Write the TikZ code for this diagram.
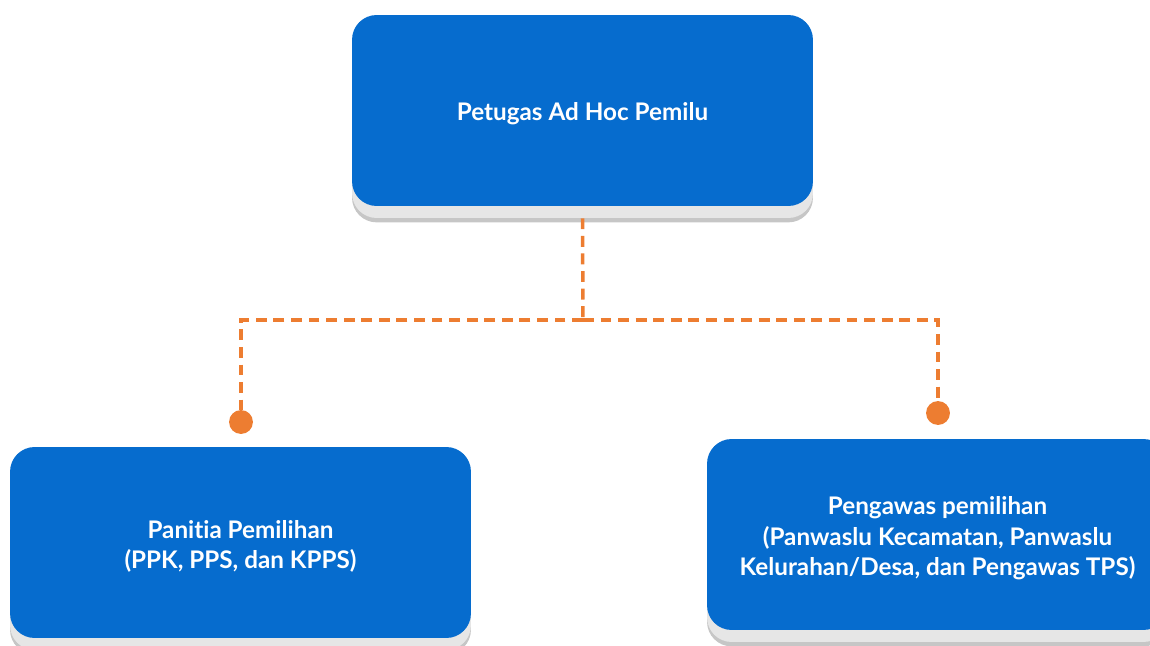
\documentclass[tikz,border=0pt]{standalone}
\usepackage{fontspec}
\setmainfont{Lato}[UprightFont=* Bold, Ligatures={NoCommon}]
\usetikzlibrary{calc,shadows,backgrounds,positioning}

\definecolor{boxblue}{RGB}{6,108,206}
\definecolor{lineorange}{RGB}{237,125,49}
\definecolor{basegray}{RGB}{230,230,230}

\tikzset{
    unitbox/.style={rounded corners=14pt, minimum width=9.22cm, minimum height=3.82cm, inner sep=0pt},
    bluebox/.style={unitbox, fill=boxblue, text=white, align=center, font=\fontsize{13.8}{17.2}\selectfont},
    basebox/.style={unitbox, fill=basegray, drop shadow={opacity=0.45, shadow xshift=0pt, shadow yshift=-2.5pt}},
    link/.style={lineorange, line width=2pt, dash pattern=on 6.2pt off 3.8pt},
    dot/.style={circle, fill=lineorange, minimum size=13.6pt, inner sep=0pt}
}

\begin{document}
\begin{tikzpicture}[x=0.02cm, y=-0.02cm]
\useasboundingbox (0,0) rectangle (1150,646);
\clip (0,0) rectangle (1150,646);

% Boxes
\node[bluebox, text height=14pt] (top) at (582.5,110.5) {Petugas Ad Hoc Pemilu};
\node[bluebox, text height=32pt] (panitia) at (240.5,542.5) {Panitia Pemilihan\\(PPK, PPS, dan KPPS)};
\node[bluebox, text height=49pt] (pengawas) at (937.5,534.5) {Pengawas pemilihan\\(Panwaslu Kecamatan, Panwaslu\\Kelurahan/Desa, dan Pengawas TPS)};

% Grey bases under the boxes
\begin{scope}[on background layer]
\foreach \n in {top,panitia,pengawas}
{
    \node[basebox] at ($(\n.center)+(0,12)$) {};
}
\end{scope}

% Dots above the lower boxes
\node[dot] (dotleft) at (241,422) {};
\node[dot] (dotright) at (938,413) {};

% Dashed connectors
\coordinate (fork) at (583,320);
\draw[link] (top.south) ++(0,12) -- (fork);
\draw[link] (fork) -| (dotleft.north);
\draw[link] (fork) -| (dotright.north);

\end{tikzpicture}
\end{document}
